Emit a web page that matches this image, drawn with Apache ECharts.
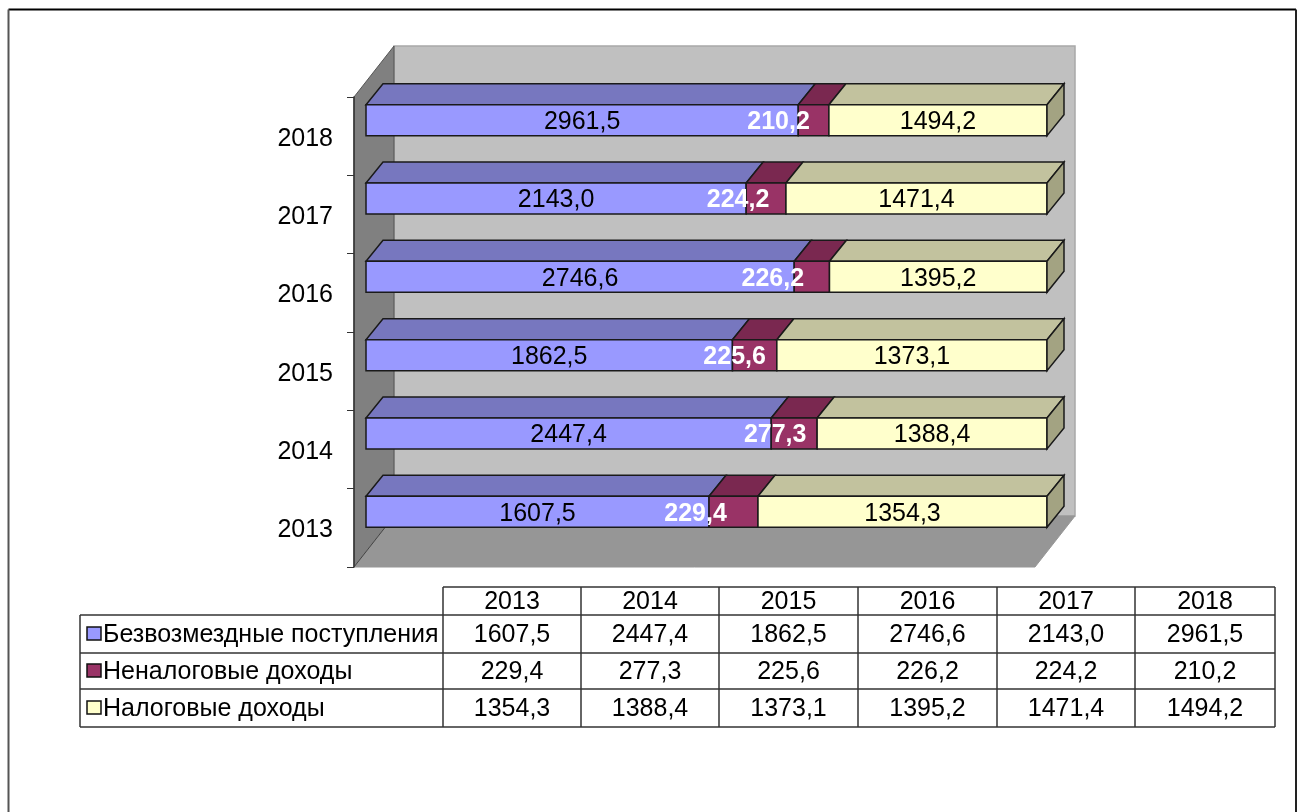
<!DOCTYPE html>
<html>
<head>
<meta charset="utf-8">
<title>Доходы</title>
<style>
html, body { margin: 0; padding: 0; background: #fff; }
#chart { width: 1304px; height: 812px; }
</style>
<script src="https://cdn.jsdelivr.net/npm/echarts@6/dist/echarts.min.js"></script>
</head>
<body>
<div id="chart"></div>
<script>
var years = ['2013', '2014', '2015', '2016', '2017', '2018'];
var grants = [1607.5, 2447.4, 1862.5, 2746.6, 2143.0, 2961.5];
var nonTax = [229.4, 277.3, 225.6, 226.2, 224.2, 210.2];
var tax = [1354.3, 1388.4, 1373.1, 1395.2, 1471.4, 1494.2];
var seriesNames = ['Безвозмездные поступления', 'Неналоговые доходы', 'Налоговые доходы'];

var font = '"Liberation Sans", Arial, sans-serif';
var fontSize = 25;

// 3d box look, pixels
var wallDx = 40, wallDy = 51;
var barOffX = 12, barOffY = 16, barH = 31;
var barDx = 17, barDy = 21;
// the white labels do not sit in the middle of the segment in the original
var midLabelShift = [-38, -19, -20, -39, -28, -35];

var faces = [
    { front: '#9999ff', top: '#7777bf', text: '#000', weight: 'normal' },
    { front: '#993366', top: '#7a2850', text: '#fff', weight: 'bold' },
    { front: '#ffffcc', top: '#c2c29e', text: '#000', weight: 'normal', side: '#a3a382' }
];

function fmt(v) {
    return v.toFixed(1).replace('.', ',');
}

function stackData(idx) {
    var rows = [];
    for (var i = 0; i < years.length; i++) {
        var parts = [grants[i], nonTax[i], tax[i]];
        var total = parts[0] + parts[1] + parts[2];
        var start = 0;
        for (var j = 0; j < idx; j++) {
            start += parts[j];
        }
        rows.push([i, start / total, (start + parts[idx]) / total, parts[idx]]);
    }
    return rows;
}

function renderWalls(params, api) {
    var a = api.coord([0, years.length - 1]);
    var band = api.size([0, 1])[1];
    var r = api.coord([1, 0]);
    var x0 = a[0], x1 = r[0];
    var y0 = a[1] - band / 2, y1 = r[1] + band / 2;
    return {
        type: 'group',
        children: [
            {
                type: 'polygon',
                shape: { points: [[x0 + wallDx, y0 - wallDy], [x1 + wallDx, y0 - wallDy], [x1 + wallDx, y1 - wallDy], [x0 + wallDx, y1 - wallDy]] },
                style: { fill: '#c0c0c0', stroke: '#a8a8a8', lineWidth: 1.5 }
            },
            {
                type: 'polygon',
                shape: { points: [[x0, y0], [x0 + wallDx, y0 - wallDy], [x0 + wallDx, y1 - wallDy], [x0, y1]] },
                style: { fill: '#808080', stroke: '#555', lineWidth: 1 }
            },
            {
                type: 'polygon',
                shape: { points: [[x0, y1], [x0 + wallDx, y1 - wallDy], [x1 + wallDx, y1 - wallDy], [x1, y1]] },
                style: { fill: '#969696', stroke: '#969696', lineWidth: 1 }
            },
            {
                type: 'line',
                shape: { x1: x0, y1: y1, x2: x0 + wallDx, y2: y1 - wallDy },
                style: { stroke: '#444', lineWidth: 1 }
            }
        ]
    };
}

function makeBarRender(idx) {
    var face = faces[idx];
    return function (params, api) {
        var cat = api.value(0);
        var a = api.coord([api.value(1), cat]);
        var b = api.coord([api.value(2), cat]);
        var xa = a[0] + barOffX, xb = b[0] + barOffX;
        var yb = a[1] - barOffY + barH / 2;
        var yt = yb - barH;
        var edge = { stroke: '#1a1a1a', lineWidth: 1.5, lineJoin: 'round' };
        var shift = idx === 1 ? midLabelShift[cat] : 0;
        var kids = [
            {
                type: 'polygon',
                shape: { points: [[xa, yt], [xb, yt], [xb + barDx, yt - barDy], [xa + barDx, yt - barDy]] },
                style: { fill: face.top, stroke: edge.stroke, lineWidth: edge.lineWidth }
            },
            {
                type: 'rect',
                shape: { x: xa, y: yt, width: xb - xa, height: barH },
                style: { fill: face.front, stroke: edge.stroke, lineWidth: edge.lineWidth }
            }
        ];
        if (face.side) {
            kids.push({
                type: 'polygon',
                shape: { points: [[xb, yt], [xb + barDx, yt - barDy], [xb + barDx, yb - barDy], [xb, yb]] },
                style: { fill: face.side, stroke: edge.stroke, lineWidth: edge.lineWidth }
            });
        }
        kids.push({
            type: 'text',
            z2: 10,
            style: {
                text: fmt(api.value(3)),
                x: (xa + xb) / 2 + shift,
                y: (yt + yb) / 2 + 2,
                align: 'center',
                verticalAlign: 'middle',
                fill: face.text,
                font: face.weight + ' ' + fontSize + 'px ' + font
            }
        });
        return { type: 'group', children: kids };
    };
}

// table under the plot
var colX = [443, 581, 719, 858, 997, 1135, 1275];
var rowY = [587, 615, 653, 689, 727];
var tableLeft = 80;

function tableGraphic() {
    var els = [];
    var stroke = { stroke: '#333', lineWidth: 1.5 };
    function line(x1, y1, x2, y2, st) {
        els.push({ type: 'line', shape: { x1: x1, y1: y1, x2: x2, y2: y2 }, style: st || stroke, silent: true });
    }
    function text(str, x, y, align) {
        els.push({
            type: 'text',
            style: { text: str, x: x, y: y + 1.5, align: align, verticalAlign: 'middle', fill: '#000', font: fontSize + 'px ' + font },
            silent: true
        });
    }
    var i, j;
    line(colX[0], rowY[0], colX[6], rowY[0]);
    for (i = 1; i < rowY.length; i++) {
        line(tableLeft, rowY[i], colX[6], rowY[i]);
    }
    line(tableLeft, rowY[1], tableLeft, rowY[4]);
    for (i = 0; i < colX.length; i++) {
        line(colX[i], rowY[0], colX[i], rowY[4]);
    }
    var rows = [grants, nonTax, tax];
    for (i = 0; i < years.length; i++) {
        var cx = (colX[i] + colX[i + 1]) / 2;
        text(years[i], cx, (rowY[0] + rowY[1]) / 2, 'center');
        for (j = 0; j < rows.length; j++) {
            text(fmt(rows[j][i]), cx, (rowY[j + 1] + rowY[j + 2]) / 2, 'center');
        }
    }
    for (j = 0; j < seriesNames.length; j++) {
        var my = (rowY[j + 1] + rowY[j + 2]) / 2;
        els.push({
            type: 'rect',
            shape: { x: 87, y: my - 7, width: 14, height: 13 },
            style: { fill: faces[j].front, stroke: '#111', lineWidth: 1.5 },
            silent: true
        });
        text(seriesNames[j], 103, my, 'left');
    }
    // outer frame of the pasted picture, no bottom edge
    line(8.5, 9.5, 1296, 9.5, { stroke: '#000', lineWidth: 2 });
    line(8.5, 9.5, 8.5, 812, { stroke: '#555', lineWidth: 2 });
    line(1296, 9.5, 1296, 812, { stroke: '#222', lineWidth: 2 });
    return els;
}

var series = [
    {
        type: 'custom',
        name: 'walls',
        z: -1,
        silent: true,
        clip: false,
        renderItem: renderWalls,
        data: [[0]]
    }
];
for (var s = 0; s < seriesNames.length; s++) {
    series.push({
        type: 'custom',
        name: seriesNames[s],
        z: 3 + s,
        silent: true,
        clip: false,
        renderItem: makeBarRender(s),
        encode: { x: [1, 2], y: 0 },
        data: stackData(s)
    });
}

var myChart = echarts.init(document.getElementById('chart'));
myChart.setOption({
    animation: false,
    backgroundColor: '#fff',
    grid: { left: 354, top: 97, width: 681, height: 470, containLabel: false },
    xAxis: { type: 'value', min: 0, max: 1, show: false },
    yAxis: {
        type: 'category',
        data: years,
        axisLine: { show: true, lineStyle: { color: '#333', width: 1.5 } },
        axisTick: { show: true, length: 7, lineStyle: { color: '#333', width: 1 } },
        axisLabel: {
            margin: 21,
            formatter: '{y|{value}}',
            rich: { y: { color: '#000', fontSize: fontSize, fontFamily: font, padding: [5, 0, 0, 0] } }
        },
        splitLine: { show: false }
    },
    tooltip: { show: false },
    series: series,
    graphic: tableGraphic()
});
</script>
</body>
</html>
